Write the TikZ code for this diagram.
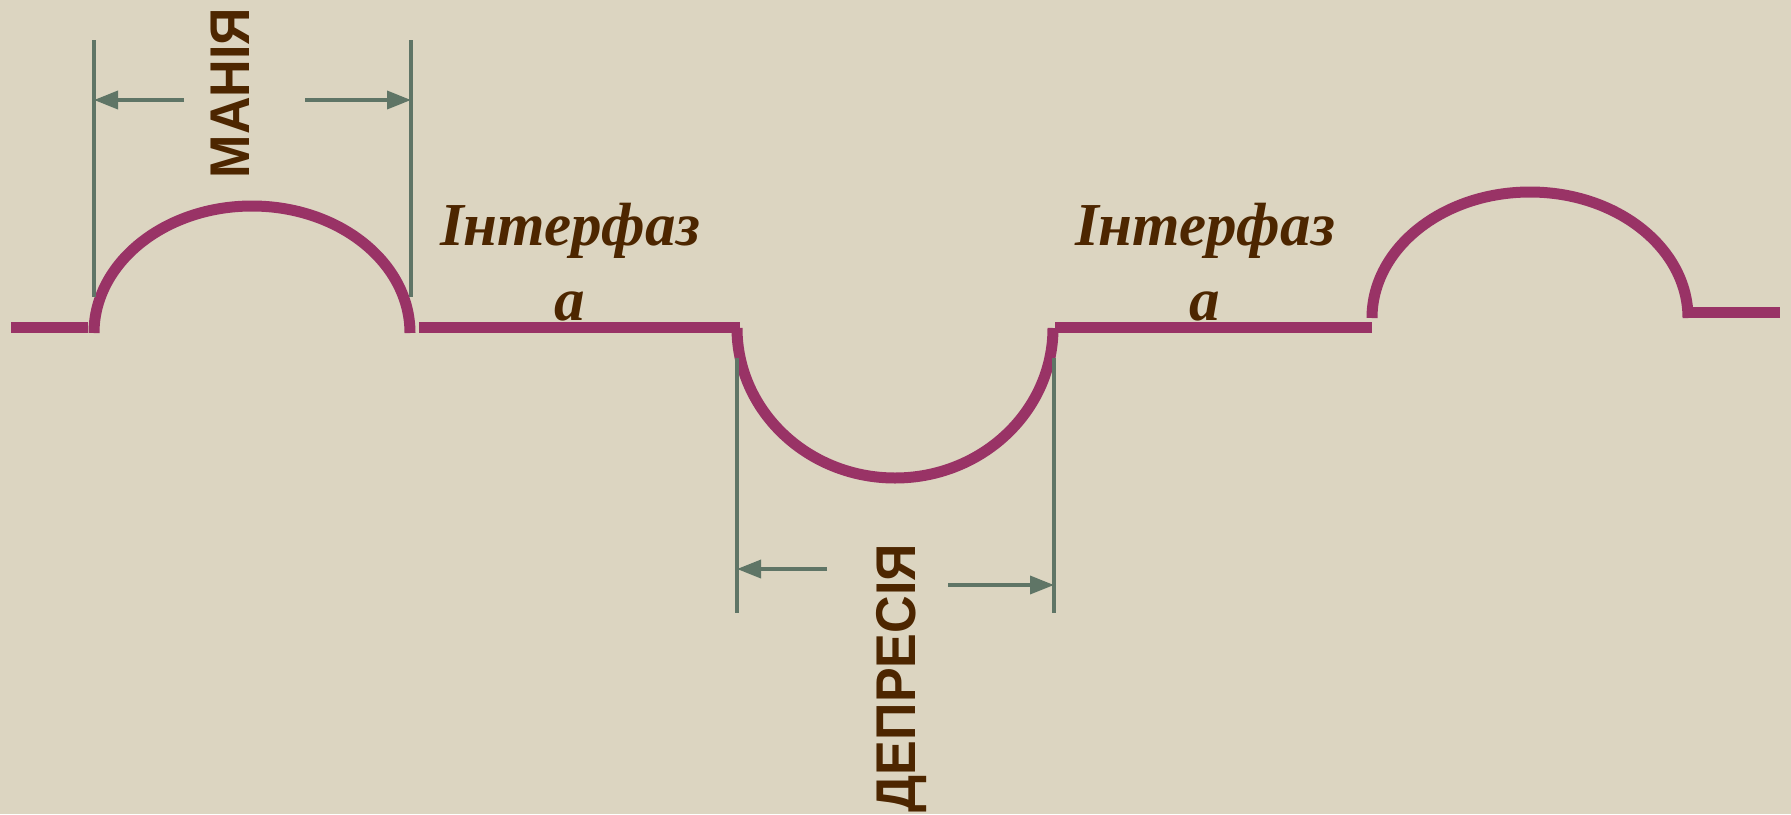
\documentclass[tikz,border=0pt]{standalone}
\usepackage{fontspec}
\setmainfont{Liberation Serif}
\newfontfamily\phasefont{Liberation Sans}
\usetikzlibrary{arrows.meta}

\definecolor{bgcol}{HTML}{DCD5C1}
\definecolor{curvecol}{HTML}{993366}
\definecolor{dimcol}{HTML}{5F7566}
\definecolor{textcol}{HTML}{4D2600}

\tikzset{
  curve/.style={curvecol, line width=11pt},
  dimline/.style={dimcol, line width=3.5pt},
  dimarrow/.style={dimline, -{Triangle[length=24pt, width=18pt]}},
  phaselabel/.style={textcol, font=\phasefont\bfseries\fontsize{56}{60}\selectfont,
    rotate=90, xscale=0.93, anchor=base, inner sep=0pt},
  pauselabel/.style={textcol, font=\bfseries\itshape\fontsize{61}{75}\selectfont,
    align=center, anchor=base, inner sep=0pt},
}

\begin{document}
\begin{tikzpicture}[x=1pt, y=-1pt]
    \fill[bgcol] (0,0) rectangle (1791,814);
    \useasboundingbox (0,0) rectangle (1791,814);

    % крива
    \draw[curve] (11,327) -- (88,327);
    \draw[curve] (94,333) arc[start angle=180, end angle=0, x radius=158pt, y radius=127pt];
    \draw[curve] (419,327) -- (740,327);
    \draw[curve] (737,328) arc[start angle=180, end angle=360, x radius=158pt, y radius=150pt];
    \draw[curve] (1055,327) -- (1372,327);
    \draw[curve] (1372,318) arc[start angle=180, end angle=0, x radius=158pt, y radius=126pt];
    \draw[curve] (1688,312) -- (1780,312);

    % манія
    \coordinate (mania-lt) at (94,40);
    \coordinate (mania-lb) at (94,297);
    \coordinate (mania-rt) at (411,40);
    \coordinate (mania-rb) at (411,297);
    \draw[dimline] (mania-lt) -- (mania-lb);
    \draw[dimline] (mania-rt) -- (mania-rb);
    \coordinate (mania-a) at (184,100);
    \coordinate (mania-b) at (305,100);
    \draw[dimarrow] (mania-a) -- (mania-a -| mania-lt);
    \draw[dimarrow] (mania-b) -- (mania-b -| mania-rt);
    \node[phaselabel] (mania) at (249,93) {МАНІЯ};

    % депресія
    \coordinate (dep-lt) at (737,358);
    \coordinate (dep-lb) at (737,613);
    \coordinate (dep-rt) at (1054,358);
    \coordinate (dep-rb) at (1054,613);
    \draw[dimline] (dep-lt) -- (dep-lb);
    \draw[dimline] (dep-rt) -- (dep-rb);
    \coordinate (dep-a) at (827,569);
    \coordinate (dep-b) at (948,585);
    \draw[dimarrow] (dep-a) -- (dep-a -| dep-lt);
    \draw[dimarrow] (dep-b) -- (dep-b -| dep-rt);
    \node[phaselabel] (dep) at (915,678) {ДЕПРЕСІЯ};

    % інтерфаза
    \node[pauselabel] (pause1) at (570,320) {Інтерфаз\\а};
    \node[pauselabel] (pause2) at (1205,320) {Інтерфаз\\а};
\end{tikzpicture}
\end{document}
